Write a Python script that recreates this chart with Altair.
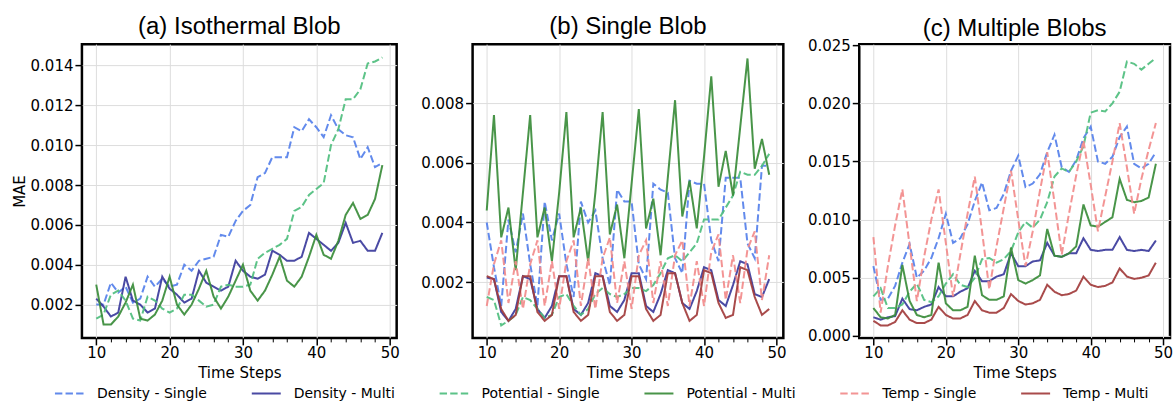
import altair as alt
import pandas as pd

steps = list(range(10, 50))
series_names = ["Density - Single", "Density - Multi", "Potential - Single",
                "Potential - Multi", "Temp - Single", "Temp - Multi"]
series_colors = ["#5580EA", "#3B3B9C", "#4FBE7E", "#3A8C3A", "#F28B8B", "#A23C3C"]

# ---- (a) Isothermal Blob ----
a_density_single = [.0020, .0020, .0031, .0026, .0029, .0021, .0023, .0034, .0029, .0033,
                    .0029, .0030, .0040, .0037, .0042, .0043, .0044, .0055, .0054, .0062,
                    .0067, .0070, .0084, .0086, .0094, .0094, .0094, .0109, .0107, .0113,
                    .0109, .0104, .0115, .0108, .0105, .0104, .0093, .0099, .0089, .0091]
a_density_multi = [.0023, .0019, .0014, .0016, .0034, .0022, .0020, .0016, .0018, .0034,
                   .0028, .0025, .0021, .0023, .0037, .0031, .0029, .0027, .0029, .0042,
                   .0037, .0034, .0033, .0035, .0047, .0045, .0042, .0042, .0044, .0056,
                   .0053, .0050, .0047, .0051, .0061, .0051, .0052, .0047, .0047, .0056]
a_potential_single = [.0013, .0015, .0025, .0027, .0022, .0013, .0012, .0024, .0022, .0018,
                      .0016, .0018, .0025, .0025, .0022, .0019, .0020, .0029, .0030, .0029,
                      .0029, .0030, .0043, .0046, .0048, .0050, .0053, .0067, .0069, .0075,
                      .0078, .0081, .0100, .0108, .0123, .0123, .0128, .0141, .0142, .0144]
a_potential_multi = [.0030, .0010, .0010, .0014, .0021, .0030, .0013, .0012, .0015, .0022,
                     .0034, .0020, .0015, .0020, .0028, .0037, .0024, .0018, .0024, .0032,
                     .0040, .0027, .0022, .0027, .0035, .0044, .0032, .0029, .0034, .0044,
                     .0055, .0045, .0043, .0052, .0065, .0071, .0063, .0065, .0073, .0090]

# ---- (b) Single Blob ----
b_density_single = [.0040, .0025, .0012, .0041, .0030, .0043, .0026, .0012, .0047, .0034,
                    .0043, .0026, .0015, .0047, .0040, .0044, .0028, .0019, .0051, .0047,
                    .0047, .0026, .0021, .0053, .0051, .0050, .0028, .0023, .0054, .0053,
                    .0053, .0034, .0027, .0055, .0055, .0055, .0033, .0028, .0059, .0059]
b_density_multi = [.00215, .0021, .0010, .0007, .0011, .0022, .0021, .0011, .0008, .0012,
                   .0022, .0022, .0011, .0009, .0013, .0023, .0022, .0012, .0010, .0014,
                   .0023, .0023, .0012, .0010, .0016, .0024, .0023, .0013, .0011, .0017,
                   .0025, .0024, .0014, .0012, .0019, .0027, .0026, .0016, .0015, .0021]
b_potential_single = [.0015, .0014, .00055, .0007, .0009, .0015, .0014, .0011, .0008, .0009,
                      .0015, .0016, .0012, .0009, .0011, .0016, .0018, .0016, .0015, .0016,
                      .0018, .0018, .0017, .0019, .0023, .0028, .0029, .0027, .0030, .0033,
                      .0041, .0041, .0041, .0045, .0049, .0057, .0056, .0056, .0059, .0063]
b_potential_multi = [.0044, .0076, .0035, .0045, .0024, .0050, .0076, .0035, .0045, .0027,
                     .0050, .0077, .0035, .0045, .0027, .0050, .0077, .0036, .0046, .0028,
                     .0053, .0078, .0038, .0048, .0029, .0055, .0081, .0042, .0054, .0038,
                     .0062, .0089, .0052, .0064, .0049, .0072, .0095, .0058, .0068, .0056]
b_temp_single = [.0012, .0026, .0034, .0013, .0027, .0011, .0026, .0034, .0012, .0027,
                 .0011, .0027, .0034, .0012, .0028, .0011, .0028, .0035, .0013, .0027,
                 .0011, .0029, .0034, .0013, .0027, .0012, .0029, .0034, .0012, .0027,
                 .0012, .0030, .0036, .0014, .0029, .0013, .0031, .0037, .0014, .0029]
b_temp_multi = [.0022, .0021, .0011, .0007, .0009, .0022, .0022, .0010, .0007, .0009,
                .0022, .0022, .0010, .0007, .0009, .0022, .0022, .0010, .0007, .0009,
                .0022, .0022, .0011, .0007, .0009, .0023, .0023, .0013, .0007, .0009,
                .0024, .0023, .0013, .0008, .0009, .0025, .0024, .0015, .0009, .0011]

# ---- (c) Multiple Blobs ----
c_density_single = [.0060, .0031, .0032, .0043, .0063, .0079, .0050, .0056, .0067, .0084,
                    .0105, .0080, .0084, .0096, .0116, .0132, .0108, .0110, .0122, .0142,
                    .0155, .0128, .0131, .0139, .0158, .0173, .0145, .0141, .0151, .0170,
                    .0180, .0150, .0148, .0154, .0171, .0180, .0148, .0144, .0148, .0158]
c_density_multi = [.0016, .0014, .0016, .0017, .0032, .0023, .0022, .0025, .0027, .0042,
                   .0034, .0034, .0038, .0041, .0056, .0047, .0047, .0051, .0053, .0071,
                   .0060, .0060, .0064, .0065, .0080, .0069, .0068, .0071, .0071, .0084,
                   .0074, .0073, .0074, .0074, .0085, .0074, .0073, .0074, .0073, .0082]
c_potential_single = [.0034, .0041, .0024, .0024, .0027, .0038, .0045, .0031, .0029, .0034,
                      .0045, .0053, .0044, .0042, .0050, .0066, .0067, .0063, .0066, .0073,
                      .0089, .0098, .0093, .0100, .0115, .0137, .0144, .0141, .0150, .0163,
                      .0192, .0194, .0193, .0200, .0210, .0236, .0234, .0229, .0234, .0239]
c_potential_multi = [.0024, .0016, .0015, .0018, .0061, .0030, .0018, .0016, .0018, .0063,
                     .0028, .0022, .0022, .0025, .0069, .0035, .0031, .0031, .0034, .0076,
                     .0048, .0045, .0048, .0052, .0092, .0069, .0068, .0071, .0077, .0113,
                     .0095, .0094, .0098, .0102, .0135, .0117, .0115, .0116, .0119, .0148]
c_temp_single = [.0085, .0020, .0060, .0095, .0126, .0078, .0030, .0068, .0100, .0126,
                 .0080, .0034, .0070, .0105, .0137, .0090, .0040, .0077, .0110, .0142,
                 .0100, .0060, .0090, .0125, .0158, .0115, .0070, .0105, .0138, .0168,
                 .0130, .0090, .0120, .0150, .0183, .0145, .0105, .0135, .0160, .0183]
c_temp_multi = [.0013, .0009, .0009, .0012, .0022, .0014, .0011, .0011, .0014, .0025,
                .0018, .0015, .0015, .0018, .0030, .0022, .0020, .0020, .0024, .0036,
                .0030, .0027, .0028, .0031, .0044, .0038, .0035, .0036, .0039, .0051,
                .0044, .0042, .0043, .0046, .0058, .0051, .0049, .0050, .0052, .0063]

a_ticks = [0.002, 0.004, 0.006, 0.008, 0.010, 0.012, 0.014]
b_ticks = [0.002, 0.004, 0.006, 0.008]
c_ticks = [0.000, 0.005, 0.010, 0.015, 0.020, 0.025]
x_ticks = list(range(10, 51, 2))


def make_df(series):
    rows = []
    for name, vals in series:
        for s, v in zip(steps, vals):
            rows.append({"step": s, "value": v, "series": name})
    return pd.DataFrame(rows)


is_major = "datum.value % 10 === 0"
legend = alt.Legend(
    title=None, orient="none", legendX=-28, legendY=334, direction="horizontal",
    columns=6, columnPadding=40, symbolType="stroke", symbolSize=841,
    symbolStrokeWidth=2, labelFont="DejaVu Sans", labelFontSize=14,
    labelColor="black", labelOffset=12, labelLimit=300,
)


def panel(df, title, ydom, yticks, width, ytitle=None, title_dy=26):
    xaxis = alt.Axis(
        values=x_ticks, format="d", labelExpr=f"{is_major} ? datum.label : ''",
        tickSize={"condition": {"test": is_major, "value": 7}, "value": 4},
        tickWidth={"condition": {"test": is_major, "value": 1.5}, "value": 1},
        gridOpacity={"condition": {"test": is_major, "value": 1}, "value": 0},
        labelPadding=1, title="Time Steps", titlePadding=5, domain=False,
        labelOverlap=False,
    )
    yargs = dict(values=yticks, format=".3f", tickSize=7, tickWidth=1.5,
                 labelPadding=2, domain=False)
    if ytitle:
        yaxis = alt.Axis(title=ytitle, titlePadding=3, **yargs)
    else:
        yaxis = alt.Axis(title=None, **yargs)
    return alt.Chart(df).mark_line(strokeWidth=2, opacity=0.92).encode(
        x=alt.X("step:Q", scale=alt.Scale(domain=[8.05, 50.95], nice=False, zero=False), axis=xaxis),
        y=alt.Y("value:Q", scale=alt.Scale(domain=ydom, nice=False, zero=False), axis=yaxis),
        color=alt.Color("series:N", scale=alt.Scale(domain=series_names, range=series_colors), legend=legend),
        strokeDash=alt.StrokeDash("series:N", scale=alt.Scale(domain=series_names,
                                  range=[[7.4, 3.2], [1, 0], [7.4, 3.2], [1, 0], [7.4, 3.2], [1, 0]]),
                                  legend=legend),
    ).properties(
        width=width, height=294,
        title=alt.TitleParams(text=title, font="Liberation Sans", fontSize=24, fontWeight="normal",
                              color="black", baseline="bottom", offset=7, dy=title_dy,
                              anchor="middle"),
    )


df_a = make_df([(series_names[0], a_density_single), (series_names[1], a_density_multi),
                (series_names[2], a_potential_single), (series_names[3], a_potential_multi)])
df_b = make_df([(series_names[0], b_density_single), (series_names[1], b_density_multi),
                (series_names[2], b_potential_single), (series_names[3], b_potential_multi),
                (series_names[4], b_temp_single), (series_names[5], b_temp_multi)])
df_c = make_df([(series_names[0], c_density_single), (series_names[1], c_density_multi),
                (series_names[2], c_potential_single), (series_names[3], c_potential_multi),
                (series_names[4], c_temp_single), (series_names[5], c_temp_multi)])

pa = panel(df_a, "(a) Isothermal Blob", [0.00033, 0.01507], a_ticks, 315, "MAE")
pb = panel(df_b, "(b) Single Blob", [0.00013, 0.00998], b_ticks, 311)
pc = panel(df_c, "(c) Multiple Blobs", [-0.00017, 0.02509], c_ticks, 311, title_dy=33.5)

chart = alt.hconcat(pa, pb, pc, spacing=76, bounds="flush").resolve_scale(
    x="independent", y="independent", color="shared", strokeDash="shared"
).properties(
    padding={"left": 10, "top": 13, "right": 2, "bottom": 2}
).configure_view(
    stroke="black", strokeWidth=2.5
).configure_axis(
    labelFont="DejaVu Sans", labelFontSize=15, labelColor="black",
    titleFont="DejaVu Sans", titleFontSize=15, titleFontWeight="normal", titleColor="black",
    tickColor="black", gridColor="#dddddd", gridWidth=1,
)

chart.save("out.html", embed_options={"renderer": "svg", "actions": False})
